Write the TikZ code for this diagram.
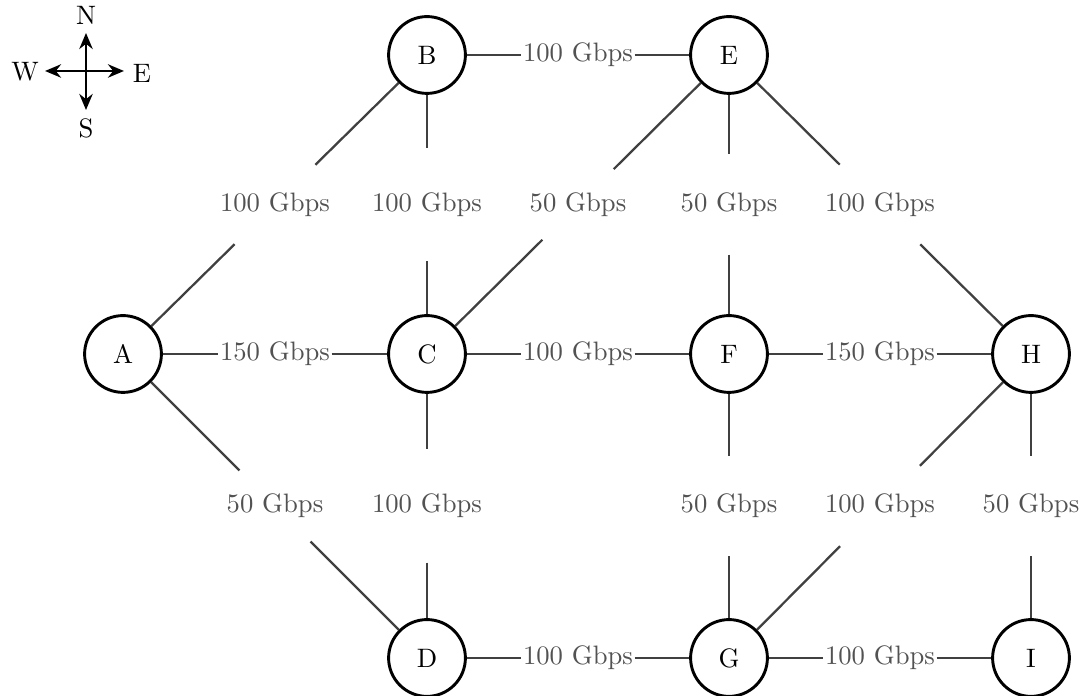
\documentclass[tikz,border=0pt]{standalone}
\usetikzlibrary{arrows.meta,calc}
\begin{document}
\begin{tikzpicture}[x=0.375pt,y=-0.375pt,
  router/.style={circle,draw=black,line width=1.1pt,minimum size=28.8pt,inner sep=0pt,fill=white},
  bw/.style={circle,inner sep=0pt,text=black!68},
  link/.style={draw=black!75,line width=0.85pt},
  compass/.style={line width=1.1pt,-{Stealth[length=6pt,width=5pt]}}]
\useasboundingbox (0,0) rectangle (1083,696);
% routers
\node[router] (B) at (427,55) {B};
\node[router] (E) at (729,55) {E};
\node[router] (A) at (123,354) {A};
\node[router] (C) at (427,354) {C};
\node[router] (F) at (729,354) {F};
\node[router] (H) at (1031,354) {H};
\node[router] (D) at (427,658) {D};
\node[router] (G) at (729,658) {G};
\node[router] (I) at (1031,658) {I};
% bandwidth labels
\node[bw] (BE) at ($(B)!0.5!(E)$) {100 Gbps};
\node[bw] (AB) at ($(A)!0.5!(B)$) {100 Gbps};
\node[bw] (BC) at ($(B)!0.5!(C)$) {100 Gbps};
\node[bw] (EC) at ($(E)!0.5!(C)$) {50 Gbps};
\node[bw] (EF) at ($(E)!0.5!(F)$) {50 Gbps};
\node[bw] (EH) at ($(E)!0.5!(H)$) {100 Gbps};
\node[bw] (AC) at ($(A)!0.5!(C)$) {150 Gbps};
\node[bw] (CF) at ($(C)!0.5!(F)$) {100 Gbps};
\node[bw] (FH) at ($(F)!0.5!(H)$) {150 Gbps};
\node[bw] (AD) at ($(A)!0.5!(D)$) {50 Gbps};
\node[bw] (CD) at ($(C)!0.5!(D)$) {100 Gbps};
\node[bw] (FG) at ($(F)!0.5!(G)$) {50 Gbps};
\node[bw] (HG) at ($(H)!0.5!(G)$) {100 Gbps};
\node[bw] (HI) at ($(H)!0.5!(I)$) {50 Gbps};
\node[bw] (DG) at ($(D)!0.5!(G)$) {100 Gbps};
\node[bw] (GI) at ($(G)!0.5!(I)$) {100 Gbps};
% links
\foreach \u/\l/\v in {B/BE/E,A/AB/B,B/BC/C,E/EC/C,E/EF/F,E/EH/H,A/AC/C,C/CF/F,F/FH/H,A/AD/D,C/CD/D,F/FG/G,H/HG/G,H/HI/I,D/DG/G,G/GI/I}{
  \draw[link] (\u) -- (\l) -- (\v);
}
% compass
\coordinate (O) at (86,71);
\coordinate (cn) at (86,33);
\coordinate (cs) at (86,110);
\coordinate (cw) at (45,71);
\coordinate (ce) at (124,71);
\draw[compass] (O) -- (cn);
\draw[compass] (O) -- (cs);
\draw[compass] (O) -- (cw);
\draw[compass] (O) -- (ce);
\node (N) at (86,15) {N};
\node (S) at (86,128) {S};
\node (W) at (25,72) {W};
\node (Ea) at (142,73) {E};
\end{tikzpicture}
\end{document}
